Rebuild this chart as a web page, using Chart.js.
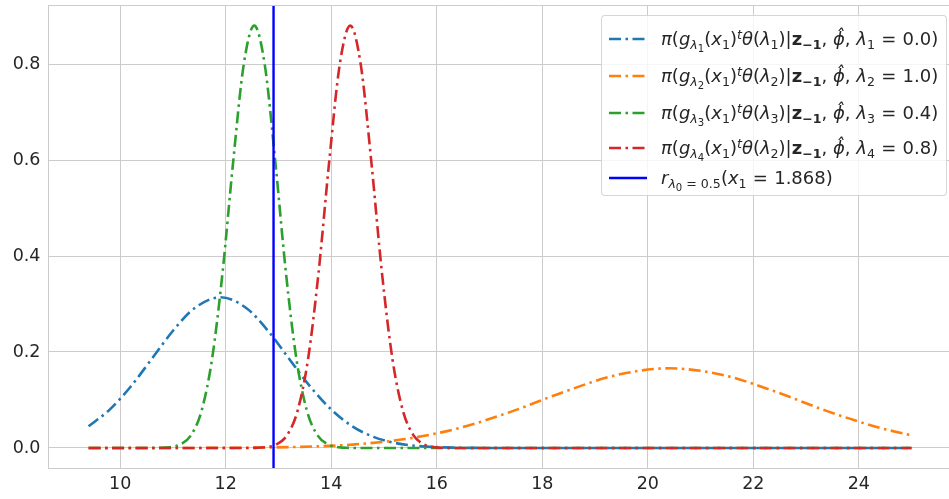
<!DOCTYPE html>
<html>
<head>
<meta charset="utf-8">
<script src="https://cdn.jsdelivr.net/npm/chart.js@4/dist/chart.umd.min.js"></script>
<style>
  body { margin: 0; background: #fff; }
  #wrap { position: relative; width: 949px; height: 499px; }
  #legend {
    position: absolute; left: 601px; top: 15px; width: 346px; height: 181px;
    box-sizing: border-box; border: 1px solid rgba(204,204,204,0.8); border-radius: 4px;
    background: rgba(255,255,255,0.8);
    font-family: "DejaVu Sans"; font-size: 18px; color: #262626;
  }
  #legend .row { position: absolute; left: 0; width: 100%; height: 0; }
  #legend svg { position: absolute; left: 6px; top: -2px; }
  #legend .txt { position: absolute; left: 59px; top: -12px; white-space: nowrap; line-height: 24px; }
  #legend sub, #legend sup { font-size: 70%; line-height: 0; position: relative; vertical-align: baseline; }
  #legend sub { top: 0.3em; }
  #legend sup { top: -0.5em; }
  #legend sub sub { font-size: 80%; }
  #legend i { font-style: italic; }
  #legend .eq { padding: 0 0.03em; }
</style>
</head>
<body>
<div id="wrap">
  <canvas id="chart" width="949" height="499"></canvas>
  <div id="legend"></div>
</div>
<script>
// series
const blueX = [9.4, 9.8, 10.2, 10.6, 11.0, 11.4, 11.9, 12.4, 12.8, 13.2, 13.6, 14.0, 14.4, 14.8, 15.2, 15.6, 16.0, 16.5, 17.0, 25.0];
const blueY = [0.0452, 0.0800, 0.1282, 0.1860, 0.2443, 0.2906, 0.314, 0.2906, 0.2443, 0.1860, 0.1282, 0.0800, 0.0452, 0.0232, 0.0107, 0.0045, 0.0017, 0.0004, 0.0001, 0];

const orangeX = [9.4, 11.4, 12.4, 13.4, 14.4, 15.4, 16.4, 17.4, 18.4, 19.4, 20.4, 21.4, 22.4, 23.4, 24.4, 25.0];
const orangeY = [0, 0.0001, 0.0006, 0.0023, 0.0071, 0.0186, 0.0408, 0.0752, 0.1165, 0.1517, 0.166, 0.1527, 0.1181, 0.0768, 0.0420, 0.0262];

const greenX = [9.4, 10.54, 10.74, 10.94, 11.14, 11.34, 11.54, 11.74, 11.94, 12.14, 12.34, 12.54, 12.74, 12.94, 13.14, 13.34, 13.54, 13.74, 13.94, 14.14, 14.34, 14.54, 25.0];
const greenY = [0, 0, 0.0003, 0.0017, 0.0074, 0.0263, 0.0770, 0.1851, 0.3661, 0.5958, 0.7982, 0.88, 0.7982, 0.5958, 0.3661, 0.1851, 0.0770, 0.0263, 0.0074, 0.0017, 0.0003, 0, 0];

const redX = [9.4, 12.36, 12.56, 12.76, 12.96, 13.16, 13.36, 13.56, 13.76, 13.96, 14.16, 14.36, 14.56, 14.76, 14.96, 15.16, 15.36, 15.56, 15.76, 15.96, 16.16, 16.36, 25.0];
const redY = [0, 0, 0.0003, 0.0017, 0.0074, 0.0263, 0.0770, 0.1851, 0.3661, 0.5958, 0.7982, 0.88, 0.7982, 0.5958, 0.3661, 0.1851, 0.0770, 0.0263, 0.0074, 0.0017, 0.0003, 0, 0];

const vlineX = 12.906;

const xTicks = [10, 12, 14, 16, 18, 20, 22, 24];
const yTicks = [0.0, 0.2, 0.4, 0.6, 0.8];

const seriesNames = [
  "π(gλ1(x1)tθ(λ1)|z−1, ϕ̂, λ1 = 0.0)",
  "π(gλ2(x1)tθ(λ2)|z−1, ϕ̂, λ2 = 1.0)",
  "π(gλ3(x1)tθ(λ3)|z−1, ϕ̂, λ3 = 0.4)",
  "π(gλ4(x1)tθ(λ2)|z−1, ϕ̂, λ4 = 0.8)",
  "rλ0 = 0.5(x1 = 1.868)"
];
const eq = '<span class="eq">=</span>';
const legendHtml = [
  '<i>π</i>(<i>g</i><sub><i>λ</i><sub>1</sub></sub>(<i>x</i><sub>1</sub>)<sup><i>t</i></sup><i>θ</i>(<i>λ</i><sub>1</sub>)|<b>z</b><sub><b>−1</b></sub>, <i>ϕ̂</i>, <i>λ</i><sub>1</sub> ' + eq + ' 0.0)',
  '<i>π</i>(<i>g</i><sub><i>λ</i><sub>2</sub></sub>(<i>x</i><sub>1</sub>)<sup><i>t</i></sup><i>θ</i>(<i>λ</i><sub>2</sub>)|<b>z</b><sub><b>−1</b></sub>, <i>ϕ̂</i>, <i>λ</i><sub>2</sub> ' + eq + ' 1.0)',
  '<i>π</i>(<i>g</i><sub><i>λ</i><sub>3</sub></sub>(<i>x</i><sub>1</sub>)<sup><i>t</i></sup><i>θ</i>(<i>λ</i><sub>3</sub>)|<b>z</b><sub><b>−1</b></sub>, <i>ϕ̂</i>, <i>λ</i><sub>3</sub> ' + eq + ' 0.4)',
  '<i>π</i>(<i>g</i><sub><i>λ</i><sub>4</sub></sub>(<i>x</i><sub>1</sub>)<sup><i>t</i></sup><i>θ</i>(<i>λ</i><sub>2</sub>)|<b>z</b><sub><b>−1</b></sub>, <i>ϕ̂</i>, <i>λ</i><sub>4</sub> ' + eq + ' 0.8)',
  '<i>r</i><sub><i>λ</i><sub>0</sub> = 0.5</sub>(<i>x</i><sub>1</sub> ' + eq + ' 1.868)'
];

const colors = ["#1f77b4", "#ff7f0e", "#2ca02c", "#d62728", "#0000ff"];
const dashDot = [12, 4.5, 2.5, 4.5];

function pts(xs, ys) {
  return xs.map((x, i) => ({ x: x, y: ys[i] }));
}

function curve(i, xs, ys) {
  return {
    label: seriesNames[i],
    data: pts(xs, ys),
    borderColor: colors[i],
    borderWidth: 2.6,
    borderDash: dashDot,
    borderCapStyle: "butt",
    pointRadius: 0,
    cubicInterpolationMode: "monotone",
    fill: false,
    order: 5 - i
  };
}

Chart.defaults.font.family = "DejaVu Sans";
Chart.defaults.color = "#262626";

const topBorder = {
  id: "topBorder",
  afterDraw(chart) {
    const a = chart.chartArea, ctx = chart.ctx;
    ctx.save();
    ctx.strokeStyle = "#cccccc";
    ctx.lineWidth = 1;
    ctx.beginPath();
    ctx.moveTo(a.left, a.top + 0.5);
    ctx.lineTo(a.right, a.top + 0.5);
    ctx.stroke();
    ctx.restore();
  }
};

new Chart(document.getElementById("chart"), {
  type: "line",
  data: {
    datasets: [
      curve(0, blueX, blueY),
      curve(1, orangeX, orangeY),
      curve(2, greenX, greenY),
      curve(3, redX, redY),
      {
        label: seriesNames[4],
        data: [{ x: vlineX, y: -1 }, { x: vlineX, y: 2 }],
        borderColor: colors[4],
        borderWidth: 2.4,
        pointRadius: 0,
        order: 0
      }
    ]
  },
  options: {
    responsive: false,
    animation: false,
    layout: { padding: { top: 5, right: 0, left: 0, bottom: 0 } },
    plugins: {
      legend: { display: false },
      tooltip: { enabled: false }
    },
    scales: {
      x: {
        type: "linear",
        min: 8.64,
        max: 25.71,
        afterBuildTicks: s => { s.ticks = xTicks.map(v => ({ value: v })); },
        afterFit: s => { s.height = 31; s.paddingLeft = 0; s.paddingRight = 0; },
        grid: { color: "#cccccc", lineWidth: 1, drawTicks: false },
        border: { color: "#cccccc", width: 1 },
        ticks: { padding: 6, font: { size: 17.5 }, color: "#262626" }
      },
      y: {
        min: -0.0417,
        max: 0.923,
        afterBuildTicks: s => { s.ticks = yTicks.map(v => ({ value: v })); },
        afterFit: s => { s.width = 48.5; s.paddingTop = 0; s.paddingBottom = 0; },
        grid: { color: "#cccccc", lineWidth: 1, drawTicks: false },
        border: { color: "#cccccc", width: 1 },
        ticks: { padding: 8, font: { size: 17.5 }, color: "#262626", callback: v => v.toFixed(1) }
      }
    }
  },
  plugins: [topBorder]
});

// legend with math-style labels as html text
const rowCenters = [23, 60, 97, 132, 162];
const legend = document.getElementById("legend");
legendHtml.forEach((html, i) => {
  const row = document.createElement("div");
  row.className = "row";
  row.style.top = rowCenters[i] + "px";
  const dash = i < 4 ? 'stroke-dasharray="12 4.5 2.5 4.5"' : "";
  row.innerHTML =
    '<svg width="40" height="4"><line x1="1" y1="2" x2="39" y2="2" stroke="' + colors[i] +
    '" stroke-width="2.6" ' + dash + '/></svg>' +
    '<div class="txt">' + html + '</div>';
  legend.appendChild(row);
});
</script>
</body>
</html>
